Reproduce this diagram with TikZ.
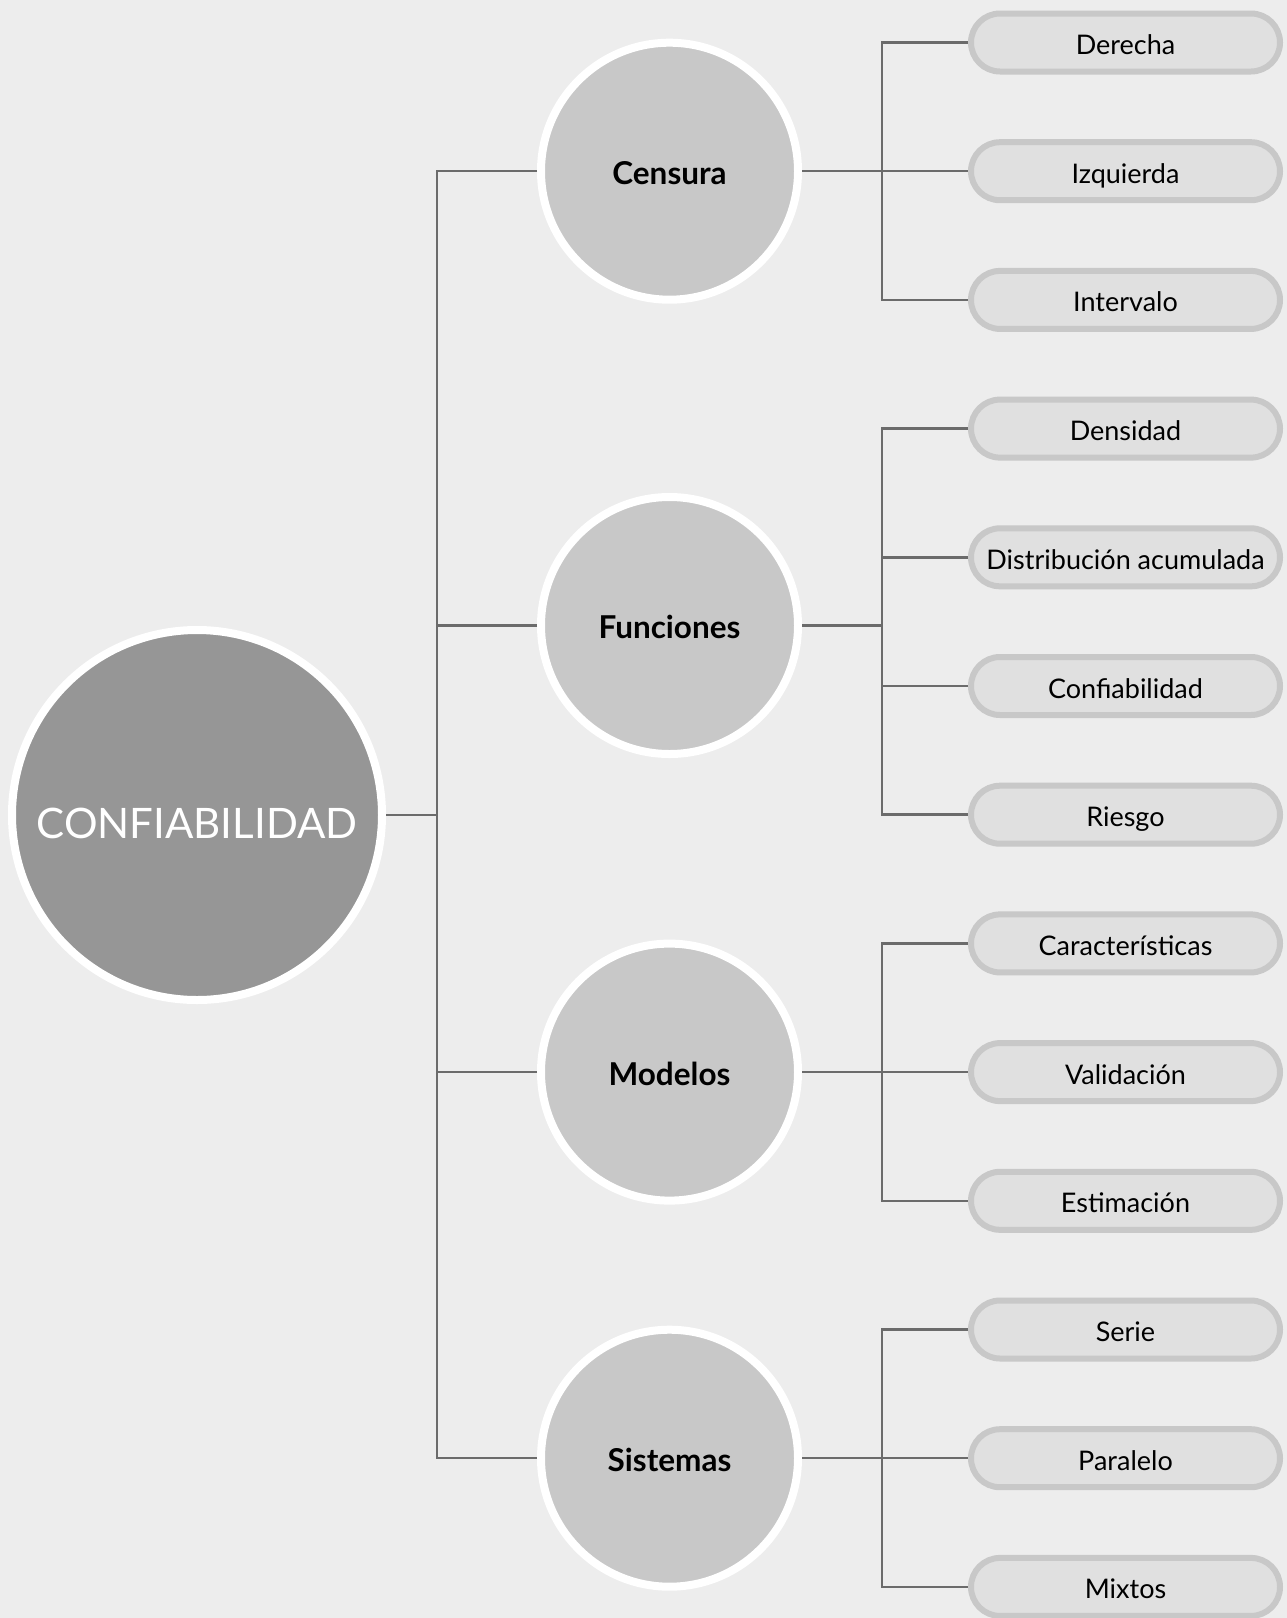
\documentclass[tikz,border=0pt]{standalone}
\usepackage{fontspec}
\setmainfont{Lato}
\definecolor{bg}{HTML}{EDEDED}
\definecolor{bigfill}{HTML}{969696}
\definecolor{midfill}{HTML}{C8C8C8}
\definecolor{leafdraw}{HTML}{C8C8C8}
\definecolor{leaffill}{HTML}{E0E0E0}
\definecolor{conn}{HTML}{6B6B6B}
\tikzset{
  x=1pt, y=-1pt,
  bignode/.style={circle, draw=white, line width=8pt, fill=bigfill, minimum size=370pt, inner sep=0pt,
    text=white, font=\fontsize{42}{48}\selectfont, text height=52pt, text depth=6pt},
  midnode/.style={circle, draw=white, line width=8pt, fill=midfill, minimum size=257pt, inner sep=0pt,
    text=black, font=\bfseries\fontsize{31.5}{36}\selectfont, text height=32pt, text depth=6pt},
  leafnode/.style={draw=leafdraw, line width=6pt, fill=leaffill, minimum width=309pt, minimum height=58pt,
    rounded corners=29pt, inner sep=0pt, text=black, font=\fontsize{27}{32}\selectfont,
    text height=30pt, text depth=6pt},
  connline/.style={draw=conn, line width=2.5pt}
}
\begin{document}
\begin{tikzpicture}
\fill[bg] (0,0) rectangle (1287,1618);
\useasboundingbox (0,0) rectangle (1287,1618);

% main
\node[bignode] (big) at (197,815) {CONFIABILIDAD};

% middle
\node[midnode] (c1) at (669.5,171.2) {Censura};
\node[midnode] (c2) at (669.5,625.5) {Funciones};
\node[midnode] (c3) at (669.5,1072.1) {Modelos};
\node[midnode] (c4) at (669.5,1458.2) {Sistemas};

% leaves
\node[leafnode] (l1) at (1125.5,42.5) {Derecha};
\node[leafnode] (l2) at (1125.5,171.2) {Izquierda};
\node[leafnode] (l3) at (1125.5,299.9) {Intervalo};
\node[leafnode] (l4) at (1125.5,428.6) {Densidad};
\node[leafnode] (l5) at (1125.5,557.3) {Distribución acumulada};
\node[leafnode] (l6) at (1125.5,686.0) {Confiabilidad};
\node[leafnode] (l7) at (1125.5,814.7) {Riesgo};
\node[leafnode] (l8) at (1125.5,943.4) {Características};
\node[leafnode] (l9) at (1125.5,1072.1) {Validación};
\node[leafnode] (l10) at (1125.5,1200.8) {Estimación};
\node[leafnode] (l11) at (1125.5,1329.5) {Serie};
\node[leafnode] (l12) at (1125.5,1458.2) {Paralelo};
\node[leafnode] (l13) at (1125.5,1586.9) {Mixtos};

% trunk
\coordinate (tx) at (437,815);
\draw[connline] (big.east) -- (tx);
\draw[connline] (c1.west) -| (tx) |- (c4.west);
\draw[connline] (c2.west) -- (c2.west -| tx);
\draw[connline] (c3.west) -- (c3.west -| tx);

% branches
\coordinate (b1) at (882,171.2);
\coordinate (b2) at (882,625.5);
\coordinate (b3) at (882,1072.1);
\coordinate (b4) at (882,1458.2);

\draw[connline] (c1.east) -- (l2.west);
\draw[connline] (l1.west) -| (b1) |- (l3.west);

\draw[connline] (c2.east) -- (b2);
\draw[connline] (l4.west) -| (b2) |- (l7.west);
\draw[connline] (l5.west) -- (l5.west -| b2);
\draw[connline] (l6.west) -- (l6.west -| b2);

\draw[connline] (c3.east) -- (l9.west);
\draw[connline] (l8.west) -| (b3) |- (l10.west);

\draw[connline] (c4.east) -- (l12.west);
\draw[connline] (l11.west) -| (b4) |- (l13.west);
\end{tikzpicture}
\end{document}
